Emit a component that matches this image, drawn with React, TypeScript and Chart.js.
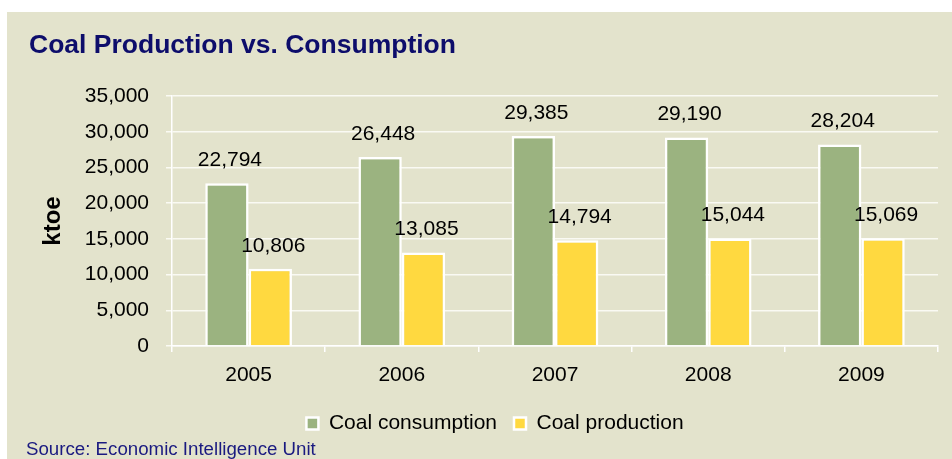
import React, { useEffect, useRef } from "react";
import { Chart, registerables } from "chart.js";

Chart.register(...registerables);

const categories = ["2005", "2006", "2007", "2008", "2009"];
const consumption = [22794, 26448, 29385, 29190, 28204];
const production = [10806, 13085, 14794, 15044, 15069];
const seriesNames = ["Coal consumption", "Coal production"];
const titleText = "Coal Production vs. Consumption";
const sourceText = "Source: Economic Intelligence Unit";
const yTitle = "ktoe";

const FONT = "'Liberation Sans', Arial, sans-serif";
const fmt = (v: number) => v.toLocaleString("en-US");

const textPlugin = {
  id: "texts",
  afterDatasetsDraw(chart: any) {
    const ctx = chart.ctx;
    ctx.save();
    ctx.font = `21px ${FONT}`;
    ctx.fillStyle = "#000";
    ctx.textAlign = "center";
    ctx.textBaseline = "middle";
    chart.data.datasets.forEach((ds: any, di: number) => {
      const meta = chart.getDatasetMeta(di);
      meta.data.forEach((bar: any, i: number) => {
        ctx.fillText(fmt(ds.data[i]), bar.x + 3, bar.y - 23);
      });
    });
    ctx.restore();
  },
  afterDraw(chart: any) {
    const ctx = chart.ctx;
    ctx.save();
    ctx.textAlign = "left";
    ctx.textBaseline = "alphabetic";
    ctx.font = `bold 26.5px ${FONT}`;
    ctx.fillStyle = "#0D0D6B";
    ctx.fillText(titleText, 22, 41);
    ctx.font = `18.7px ${FONT}`;
    ctx.fillStyle = "#1A1A80";
    ctx.fillText(sourceText, 19, 443);
    ctx.restore();
  },
};

export default function App() {
  const ref = useRef<HTMLCanvasElement | null>(null);
  useEffect(() => {
    document.body.style.margin = "0";
    if (!ref.current) return;
    const chart = new Chart(ref.current, {
      type: "bar",
      data: {
        labels: categories,
        datasets: [
          {
            label: seriesNames[0],
            data: consumption,
            backgroundColor: "#9BB380",
            borderColor: "#FFFFFF",
            borderWidth: 2.5,
            categoryPercentage: 0.566,
            barPercentage: 1,
          },
          {
            label: seriesNames[1],
            data: production,
            backgroundColor: "#FFD940",
            borderColor: "#FFFFFF",
            borderWidth: 2.5,
            categoryPercentage: 0.566,
            barPercentage: 1,
          },
        ],
      },
      options: {
        animation: false,
        responsive: false,
        layout: { padding: { top: 84, right: 14, left: 45, bottom: 15 } },
        plugins: {
          title: { display: false },
          tooltip: { enabled: false },
          legend: {
            position: "bottom",
            labels: {
              boxWidth: 12,
              boxHeight: 12,
              padding: 17,
              color: "#000",
              font: { size: 21, family: FONT },
            },
          },
        },
        scales: {
          x: {
            grid: {
              offset: true,
              drawOnChartArea: false,
              color: "#FFFFFF",
              tickLength: 6,
              lineWidth: 1.5,
            },
            border: { color: "#FFFFFF", width: 1.5 },
            ticks: { color: "#000", font: { size: 21, family: FONT }, padding: 11 },
            afterFit: (s: any) => {
              s.height = 50;
            },
          },
          y: {
            min: 0,
            max: 35000,
            ticks: {
              stepSize: 5000,
              color: "#000",
              font: { size: 21, family: FONT },
              padding: 17,
              callback: (v: any) => fmt(Number(v)),
            },
            grid: { color: "#FAFAF3", lineWidth: 1.5, tickLength: 6 },
            border: { color: "#FFFFFF", width: 1.5 },
            title: {
              display: true,
              text: yTitle,
              color: "#000",
              font: { size: 24, weight: "bold", family: FONT },
              padding: { top: -13, bottom: 0 },
            },
            afterFit: (s: any) => {
              s.width = 120;
            },
          },
        },
      },
      plugins: [textPlugin],
    });
    return () => chart.destroy();
  }, []);
  return (
    <div style={{ width: 952, height: 459, background: "#FFFFFF", position: "relative" }}>
      <div
        style={{
          position: "absolute",
          left: 7,
          top: 12,
          width: 945,
          height: 447,
          background: "#E3E3CC",
        }}
      >
        <canvas ref={ref} width={945} height={447} style={{ display: "block" }} />
      </div>
    </div>
  );
}
